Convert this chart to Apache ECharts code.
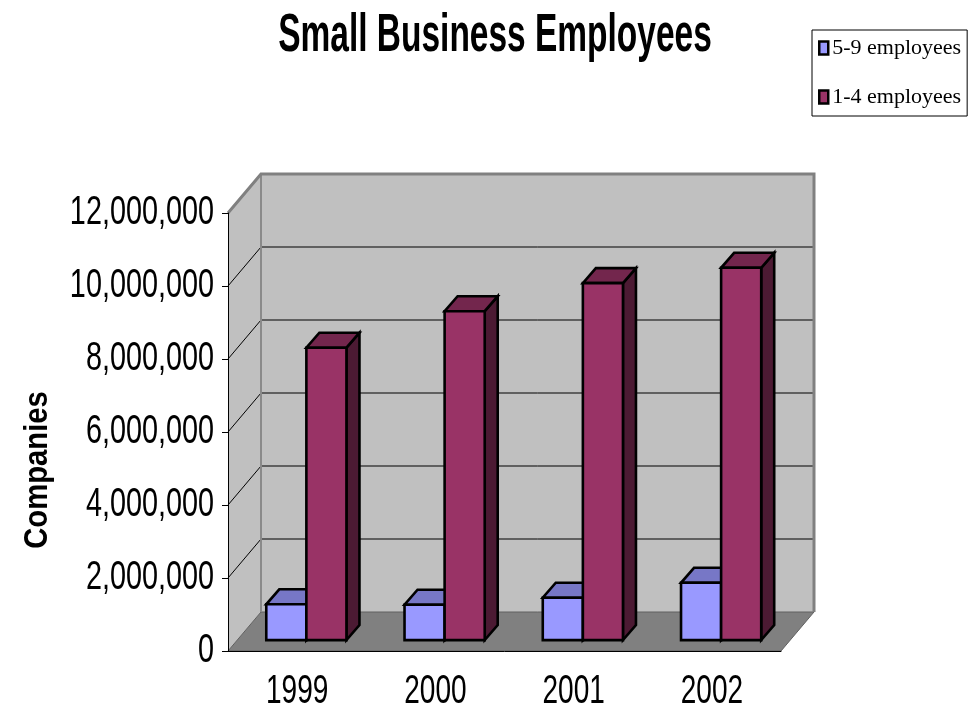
<!DOCTYPE html>
<html>
<head>
<meta charset="utf-8">
<script src="https://cdn.jsdelivr.net/npm/echarts@6/dist/echarts.min.js"></script>
<style>html,body{margin:0;padding:0;background:#fff;}#chart{width:973px;height:717px;}</style>
</head>
<body>
<div id="chart"></div>
<script>
const categories = ['1999', '2000', '2001', '2002'];
const seriesNames = ['5-9 employees', '1-4 employees'];
const employees5to9 = [980000, 970000, 1160000, 1570000];
const employees1to4 = [8010000, 9010000, 9780000, 10200000];
const yTicks = [0, 2000000, 4000000, 6000000, 8000000, 10000000, 12000000];

const SANS = '"Liberation Sans", Arial, sans-serif';
const SERIF = '"Liberation Serif", "Times New Roman", serif';

// 3D look (pixels)
const DX = 33, DY = -39;          // wall depth
const F0 = 0.28;                  // bar front depth fraction
const BDX = 13, BDY = -15;        // bar depth
const BAR_FRAC = 0.29;            // bar width as fraction of category
const LABEL_SCALE = 0.72;         // condensed look of the labels

function fmt(v) { return String(v).replace(/\B(?=(\d{3})+(?!\d))/g, ','); }

function wallsRender(params, api) {
  const cs = params.coordSys;
  const x0 = cs.x, x1 = cs.x + cs.width, yT = cs.y, yB = cs.y + cs.height;
  const ch = [];
  ch.push({type: 'polygon', shape: {points: [[x0 + DX, yT + DY], [x1 + DX, yT + DY], [x1 + DX, yB + DY], [x0 + DX, yB + DY]]}, style: {fill: '#c0c0c0'}});
  ch.push({type: 'polygon', shape: {points: [[x0, yT], [x0 + DX, yT + DY], [x0 + DX, yB + DY], [x0, yB]]}, style: {fill: '#c0c0c0'}});
  yTicks.forEach(function (t) {
    const y = api.coord([0, t])[1];
    ch.push({type: 'text', x: x0 - 14, y: y, scaleX: LABEL_SCALE,
      style: {text: fmt(t), x: 0, y: 0, align: 'right', verticalAlign: 'middle', fontFamily: SANS, fontSize: 40, fill: '#000'}});
    if (t === yTicks[0] || t === yTicks[yTicks.length - 1]) return;
    ch.push({type: 'polyline', shape: {points: [[x0, y], [x0 + DX, y + DY], [x1 + DX, y + DY]]}, style: {stroke: '#000', lineWidth: 1, fill: null}});
  });
  categories.forEach(function (c, i) {
    const p = api.coord([i, 0]);
    ch.push({type: 'text', x: p[0], y: yB + 41, scaleX: 0.70,
      style: {text: c, x: 0, y: 0, align: 'center', verticalAlign: 'middle', fontFamily: SANS, fontSize: 40, fill: '#000'}});
  });
  ch.push({type: 'polygon', shape: {points: [[x0, yB], [x1, yB], [x1 + DX, yB + DY], [x0 + DX, yB + DY]]}, style: {fill: '#808080', stroke: '#606060', lineWidth: 1}});
  ch.push({type: 'line', shape: {x1: x0 + DX, y1: yT + DY, x2: x0 + DX, y2: yB + DY}, style: {stroke: '#8a8a8a', lineWidth: 2}});
  ch.push({type: 'polyline', shape: {points: [[x0, yT], [x0 + DX, yT + DY], [x1 + DX, yT + DY], [x1 + DX, yB + DY]]}, style: {stroke: '#808080', lineWidth: 3, fill: null}});
  return {type: 'group', children: ch};
}

function makeBarRender(side, front, top, right) {
  return function (params, api) {
    const i = api.value(0), v = api.value(1);
    const base = api.coord([i, 0]);
    const topPt = api.coord([i, v]);
    const cw = api.size([1, 0])[0];
    const w = cw * BAR_FRAC;
    const c = base[0] + F0 * DX;
    const xl = side === 0 ? c - w : c;
    const xr = xl + w;
    const yb = base[1] + F0 * DY;
    const yt = topPt[1] + F0 * DY;
    const st = {stroke: '#000', lineWidth: 2.6, lineJoin: 'miter'};
    return {type: 'group', children: [
      {type: 'polygon', shape: {points: [[xr, yt], [xr + BDX, yt + BDY], [xr + BDX, yb + BDY], [xr, yb]]}, style: Object.assign({fill: right}, st)},
      {type: 'polygon', shape: {points: [[xl, yt], [xr, yt], [xr + BDX, yt + BDY], [xl + BDX, yt + BDY]]}, style: Object.assign({fill: top}, st)},
      {type: 'polygon', shape: {points: [[xl, yt], [xr, yt], [xr, yb], [xl, yb]]}, style: Object.assign({fill: front}, st)}
    ]};
  };
}

const chart = echarts.init(document.getElementById('chart'), null, {renderer: 'canvas'});
chart.setOption({
  backgroundColor: '#fff',
  animation: false,
  legend: {
    data: seriesNames,
    orient: 'vertical',
    left: 812, top: 30,
    padding: [7, 6, 8, 6],
    itemGap: 27,
    itemWidth: 9, itemHeight: 13,
    icon: 'rect',
    backgroundColor: '#fff',
    borderColor: '#000', borderWidth: 1, borderRadius: 0,
    itemStyle: {borderColor: '#000', borderWidth: 2.5},
    textStyle: {fontFamily: SERIF, fontSize: 22, color: '#000', lineHeight: 22, padding: [0, 0, 0, -1]}
  },
  graphic: [{
    type: 'text', x: 495, y: 36, scaleX: 0.62,
    style: {text: 'Small Business Employees', fontFamily: SANS, fontWeight: 'bold', fontSize: 54, fill: '#000', align: 'center', verticalAlign: 'middle'}
  }, {
    type: 'text', x: 38, y: 470, rotation: Math.PI / 2, scaleX: 0.86,
    style: {text: 'Companies', fontFamily: SANS, fontWeight: 'bold', fontSize: 34, fill: '#000', align: 'center', verticalAlign: 'middle'}
  }],
  grid: {left: 228, right: 192, top: 213, bottom: 66, containLabel: false},
  xAxis: {
    type: 'category', data: categories, boundaryGap: true, z: 10,
    axisLine: {lineStyle: {color: '#000', width: 1}},
    axisTick: {length: 10, lineStyle: {color: '#000'}},
    axisLabel: {show: false},
    splitLine: {show: false}
  },
  yAxis: {
    type: 'value', min: 0, max: 12000000, interval: 2000000, z: 10,
    axisLine: {show: true, lineStyle: {color: '#000', width: 1}},
    axisTick: {show: true, length: 6, lineStyle: {color: '#000'}},
    axisLabel: {show: false},
    splitLine: {show: false}
  },
  series: [
    {type: 'custom', name: 'walls', silent: true, z: 1, renderItem: wallsRender, data: [[0, 0]]},
    {type: 'custom', name: seriesNames[0], z: 2, itemStyle: {color: '#9999ff'},
      renderItem: makeBarRender(0, '#9999ff', '#7777c6', '#5c5ca0'),
      data: categories.map(function (c, i) { return [i, employees5to9[i]]; })},
    {type: 'custom', name: seriesNames[1], z: 3, itemStyle: {color: '#993366'},
      renderItem: makeBarRender(1, '#993366', '#73264d', '#4c1a33'),
      data: categories.map(function (c, i) { return [i, employees1to4[i]]; })}
  ]
});
</script>
</body>
</html>
